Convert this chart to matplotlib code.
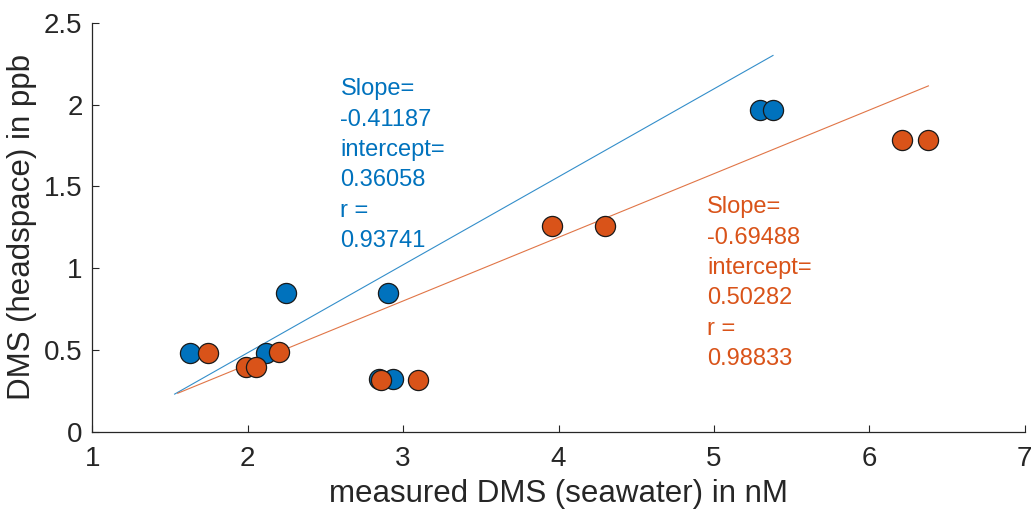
import numpy as np
import matplotlib
matplotlib.use("Agg")
import matplotlib.pyplot as plt

plt.rcParams["font.family"] = ["Liberation Sans", "DejaVu Sans"]

# seawater vs headspace DMS, two runs
blue_x = [1.628, 2.121, 2.246, 2.846, 2.906, 2.936, 5.294, 5.380]
blue_y = [0.479, 0.479, 0.850, 0.320, 0.850, 0.320, 1.966, 1.966]
orange_x = [1.746, 1.988, 2.053, 2.203, 2.857, 3.097, 3.960, 4.300, 6.209, 6.379]
orange_y = [0.483, 0.394, 0.397, 0.489, 0.316, 0.316, 1.257, 1.257, 1.783, 1.783]

# fitted lines: slope, intercept, x-range
blue_fit = (0.5377, -0.593)
blue_fit_x = [1.53, 5.38]
orange_fit = (0.389, -0.368)
orange_fit_x = [1.55, 6.38]

blue_text = "Slope=\n-0.41187\nintercept=\n0.36058\nr =\n0.93741"
orange_text = "Slope=\n-0.69488\nintercept=\n0.50282\nr =\n0.98833"

BLUE = "#0072BD"
ORANGE = "#D95319"
AX_COL = "#262626"

fig = plt.figure(figsize=(10.32, 5.16), dpi=100)
ax = fig.add_axes([0.0894, 0.1634, 0.9036, 0.7926])

for (m, b), xr, c in [(blue_fit, blue_fit_x, BLUE), (orange_fit, orange_fit_x, ORANGE)]:
    xs = np.array(xr)
    ax.plot(xs, m * xs + b, color=c, linewidth=0.8, alpha=0.8, zorder=1)

ax.scatter(blue_x, blue_y, s=210, color=BLUE, edgecolor="#1a1a1a", linewidth=0.9, zorder=3)
ax.scatter(orange_x, orange_y, s=210, color=ORANGE, edgecolor="#1a1a1a", linewidth=0.9, zorder=4)

ax.text(2.597, 2.16, blue_text, color=BLUE, fontsize=17, va="top", ha="left", linespacing=1.49)
ax.text(4.957, 1.438, orange_text, color=ORANGE, fontsize=17, va="top", ha="left", linespacing=1.49)

ax.set_xlim(1, 7)
ax.set_ylim(0, 2.5)
ax.set_xticks(range(1, 8))
ax.set_yticks([0, 0.5, 1, 1.5, 2, 2.5])
ax.set_yticklabels(["0", "0.5", "1", "1.5", "2", "2.5"])
ax.spines["top"].set_visible(False)
ax.spines["right"].set_visible(False)
for s in ("left", "bottom"):
    ax.spines[s].set_color(AX_COL)
    ax.spines[s].set_linewidth(0.9)
ax.tick_params(direction="in", length=5, width=0.8, color=AX_COL,
               labelcolor=AX_COL, labelsize=20)
ax.tick_params(axis="x", pad=10)
ax.tick_params(axis="y", pad=7)

ax.set_xlabel("measured DMS (seawater) in nM", fontsize=22.5, color=AX_COL, labelpad=5)
ax.set_ylabel("DMS (headspace) in ppb", fontsize=22.5, color=AX_COL, labelpad=5)

fig.savefig("out.png", dpi=100)
